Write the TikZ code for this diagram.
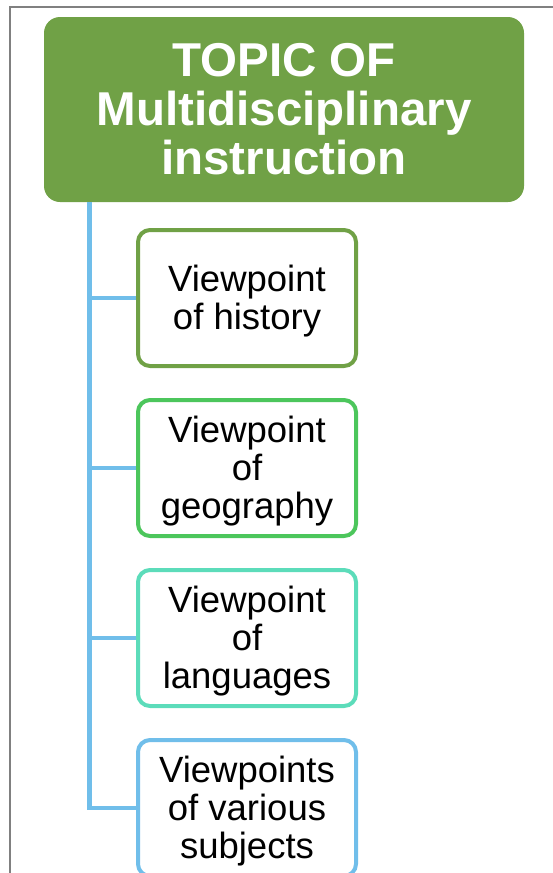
\documentclass[tikz,border=0pt]{standalone}
\usepackage{fontspec}
\setmainfont{Liberation Sans}
\definecolor{topicgreen}{RGB}{112,161,70}
\definecolor{histgreen}{RGB}{112,161,70}
\definecolor{geogreen}{RGB}{76,198,92}
\definecolor{langteal}{RGB}{92,220,186}
\definecolor{linkblue}{RGB}{112,190,234}
\definecolor{framegray}{RGB}{128,128,128}
% struts that give each text block the ascent and descent of its font
\newcommand{\AscStrut}{\rule{0pt}{0.905em}}
\newcommand{\DescStrut}{\rule[-0.212em]{0pt}{0.212em}}
\tikzset{
  topicbox/.style={fill=topicgreen, draw=none, rounded corners=16pt,
    minimum width=480pt, minimum height=185pt, inner sep=0pt,
    text=white, align=center, font=\fontsize{47.5}{49}\selectfont\bfseries},
  viewbox/.style={draw=#1, fill=white, line width=4pt, rounded corners=12pt,
    minimum width=218pt, minimum height=136pt, inner sep=0pt,
    text=black, align=center, font=\fontsize{36.5}{38}\selectfont},
  conn/.style={draw=linkblue, line width=4.5pt},
  frameline/.style={draw=framegray, line width=1.5pt}
}
\begin{document}
\begin{tikzpicture}[x=1pt,y=-1pt]
\useasboundingbox (0,0) rectangle (553,873);
\clip (0,0) rectangle (553,873);
% outer frame
\draw[frameline] (10,900) -- (10,7) -- (600,7);
% topic
\node[topicbox] (topic) at (284,109.5) {\AscStrut TOPIC OF\\Multidisciplinary\\instruction\DescStrut};
% trunk of the tree
\coordinate (trunktop) at (89.5,202);
% viewpoints
\node[viewbox=histgreen] (hist) at (247,298) {\AscStrut Viewpoint\\of history\DescStrut};
\node[viewbox=geogreen] (geo) at (247,468) {\AscStrut Viewpoint\\of\\geography\DescStrut};
\node[viewbox=langteal] (lang) at (247,638) {\AscStrut Viewpoint\\of\\languages\DescStrut};
\node[viewbox=linkblue] (subj) at (247,808) {\AscStrut Viewpoints\\of various\\subjects\DescStrut};
% connectors
\draw[conn] (trunktop) |- (subj.west);
\draw[conn] (hist.west) -- (hist.west -| trunktop);
\draw[conn] (geo.west) -- (geo.west -| trunktop);
\draw[conn] (lang.west) -- (lang.west -| trunktop);
\end{tikzpicture}
\end{document}
